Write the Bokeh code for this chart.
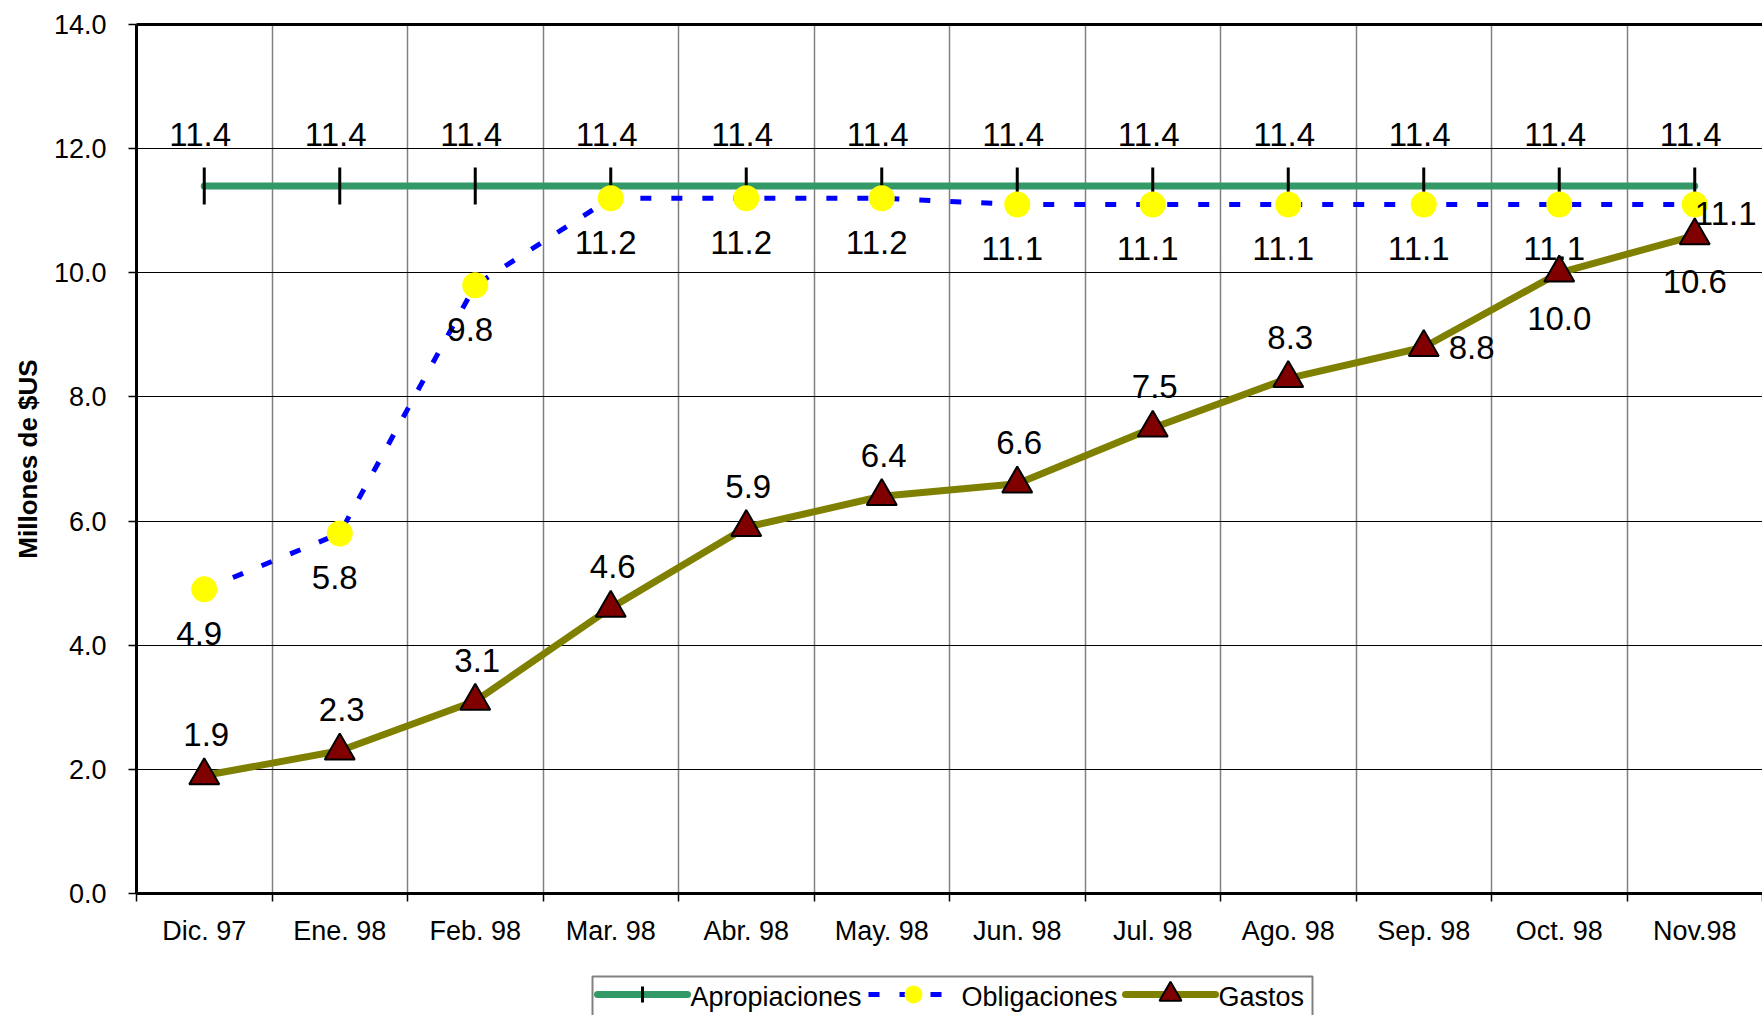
import math
from bokeh.plotting import figure
from bokeh.layouts import column
from bokeh.models import (Range1d, FixedTicker, LinearAxis, CustomJSTickFormatter,
                          PrintfTickFormatter)
from bokeh.core.properties import value
from bokeh.embed import file_html
from bokeh.resources import INLINE

# ---------------- data ----------------
months = ["Dic. 97", "Ene. 98", "Feb. 98", "Mar. 98", "Abr. 98", "May. 98",
          "Jun. 98", "Jul. 98", "Ago. 98", "Sep. 98", "Oct. 98", "Nov.98"]
apropiaciones = [11.4, 11.4, 11.4, 11.4, 11.4, 11.4, 11.4, 11.4, 11.4, 11.4, 11.4, 11.4]
obligaciones = [4.9, 5.8, 9.8, 11.2, 11.2, 11.2, 11.1, 11.1, 11.1, 11.1, 11.1, 11.1]
gastos = [1.9, 2.3, 3.1, 4.6, 5.9, 6.4, 6.6, 7.5, 8.3, 8.8, 10.0, 10.6]
y_ticks = [0, 2, 4, 6, 8, 10, 12, 14]
series_names = ["Apropiaciones", "Obligaciones", "Gastos"]

# label placement per point
ap_pos = ["above"] * 12
ob_pos = ["below"] * 11 + ["right"]
ga_pos = ["above"] * 9 + ["right", "below", "below"]

FONT = "Liberation Sans"
n = len(months)
xs = [i + 0.5 for i in range(n)]

# style per series
AP = dict(color="#339966", width=7, marker="dash", size=37)
OB = dict(color="#0000FF", width=5, dash="11 20", fill="#FFFF00", marker="circle", size=26)
GA = dict(color="#808000", width=7, fill="#800000", marker="triangle", size=30)

p = figure(width=1762, height=950, output_backend="svg", toolbar_location=None,
           x_range=Range1d(0, 12), y_range=Range1d(0, 14),
           min_border_left=136, min_border_right=0, min_border_top=24, min_border_bottom=57,
           background_fill_color="white", border_fill_color="white",
           outline_line_color=None)

# x axis
xa = p.xaxis[0]
xa.ticker = FixedTicker(ticks=xs, minor_ticks=list(range(n + 1)))
xa.formatter = CustomJSTickFormatter(args=dict(labels=months),
                                     code="return labels[Math.round(tick - 0.5)];")
xa.major_tick_line_color = None
xa.major_tick_out = 8
xa.major_tick_in = 0
xa.minor_tick_out = 8
xa.minor_tick_in = 0
xa.minor_tick_line_color = "black"
xa.minor_tick_line_width = 1.5
xa.axis_line_color = "black"
xa.axis_line_width = 3
xa.major_label_standoff = 14
xa.major_label_text_font = FONT
xa.major_label_text_font_size = "27px"
xa.major_label_text_color = "black"

# y axis
ya = p.yaxis[0]
ya.ticker = FixedTicker(ticks=y_ticks)
ya.formatter = PrintfTickFormatter(format="%.1f")
ya.major_tick_out = 8
ya.major_tick_in = 0
ya.major_tick_line_color = "black"
ya.major_tick_line_width = 1.5
ya.minor_tick_line_color = None
ya.axis_line_color = "black"
ya.axis_line_width = 3
ya.major_label_standoff = 22
ya.major_label_text_font = FONT
ya.major_label_text_font_size = "27px"
ya.major_label_text_color = "black"
ya.axis_label = "Millones de $US"
ya.axis_label_text_font = FONT
ya.axis_label_text_font_size = "26px"
ya.axis_label_text_font_style = "bold"
ya.axis_label_text_color = "black"
ya.axis_label_standoff = 8

# top border
top = LinearAxis(ticker=FixedTicker(ticks=[]), axis_line_width=3, axis_line_color="black",
                 major_tick_line_color=None, minor_tick_line_color=None,
                 major_label_text_font_size="0px")
p.add_layout(top, "above")

# grids
p.xgrid.ticker = FixedTicker(ticks=list(range(1, n)))
p.xgrid.grid_line_color = "#808080"
p.xgrid.grid_line_width = 1.5
p.ygrid.ticker = FixedTicker(ticks=y_ticks[1:-1])
p.ygrid.grid_line_color = "black"
p.ygrid.grid_line_width = 1


OFFS = {
    "ap": {"above": (-4, -51, "center")},
    "ob": {"below": (-5, 44, "center"), "right": (0, 9, "left")},
    "ga": {"above": (2, -41, "center"), "right": (25, 0, "left"), "below": (0, 46, "center")},
}


def add_labels(key, yvals, positions):
    for x, y, pos in zip(xs, yvals, positions):
        dx, dy, align = OFFS[key][pos]
        p.text(x=[x], y=[y], text=[f"{y:.1f}"], text_font=value(FONT),
               text_font_size="33px", text_color="black", text_align=align,
               text_baseline="middle", x_offset=dx, y_offset=dy)


def draw_line(fig, x, y, style):
    if "dash" in style:
        return fig.line(x, y, line_color=style["color"], line_width=style["width"],
                        line_dash=style["dash"])
    return fig.line(x, y, line_color=style["color"], line_width=style["width"],
                    line_cap="round")


def draw_marker(fig, x, y, style, size):
    m = style["marker"]
    if m == "dash":
        return fig.scatter(x, y, marker="dash", size=size, angle=math.pi / 2,
                           line_color="black", line_width=3)
    if m == "circle":
        return fig.scatter(x, y, marker="circle", size=size, fill_color=style["fill"],
                           line_color=None)
    return fig.scatter(x, y, marker="triangle", size=size, fill_color=style["fill"],
                       line_color="black", line_width=2)


for key, vals, style, pos in (("ap", apropiaciones, AP, ap_pos),
                              ("ob", obligaciones, OB, ob_pos),
                              ("ga", gastos, GA, ga_pos)):
    draw_line(p, xs, vals, style)
    draw_marker(p, xs, vals, style, style["size"])
    add_labels(key, vals, pos)

# ---------------- legend strip (screen-pixel coordinates) ----------------
lf = figure(width=1762, height=65, output_backend="svg", toolbar_location=None,
            x_range=Range1d(136, 1762), y_range=Range1d(1015, 950),
            x_axis_location=None, y_axis_location=None,
            min_border_left=0, min_border_right=0, min_border_top=0, min_border_bottom=0,
            background_fill_color="white", border_fill_color="white",
            outline_line_color=None)
lf.grid.visible = False

LEG_BOX = dict(left=592, right=1312, top=976, bottom=1040)
LEG_ROW = 994
LEG_GLYPH_X = [597, 868, 1125]
LEG_GLYPH_W = 90
LEG_STANDOFF = 3
LEG_MARKER = [16, 18, 22]

lf.quad(left=[LEG_BOX["left"]], right=[LEG_BOX["right"]], top=[LEG_BOX["top"]],
        bottom=[LEG_BOX["bottom"]], fill_color="white", line_color="#808080", line_width=2)
for name, style, gx, msize in zip(series_names, (AP, OB, GA), LEG_GLYPH_X, LEG_MARKER):
    draw_line(lf, [gx, gx + LEG_GLYPH_W], [LEG_ROW, LEG_ROW], style)
    draw_marker(lf, [gx + LEG_GLYPH_W / 2], [LEG_ROW], style, msize)
    lf.text(x=[gx + LEG_GLYPH_W + LEG_STANDOFF], y=[LEG_ROW + 2], text=[name],
            text_font=value(FONT), text_font_size="27px", text_color="black",
            text_align="left", text_baseline="middle")

layout = column(p, lf, spacing=0)
open("out.html", "w").write(file_html(layout, INLINE))
